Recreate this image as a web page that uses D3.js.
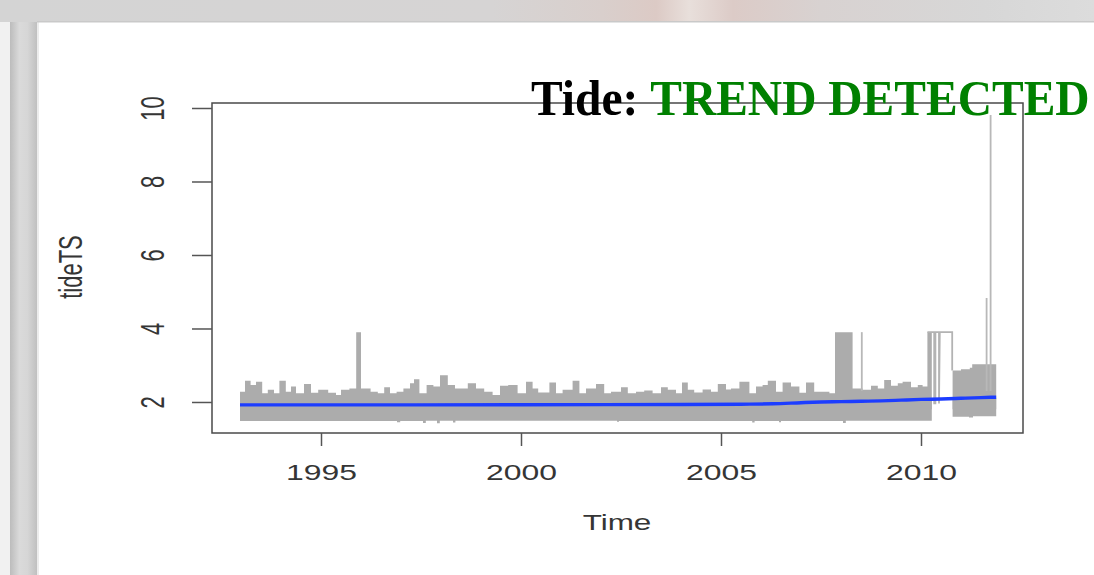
<!DOCTYPE html>
<html>
<head>
<meta charset="utf-8">
<script src="https://cdn.jsdelivr.net/npm/d3@7"></script>
<style>
  html, body { margin: 0; padding: 0; background: #fff; overflow: hidden; }
  svg { display: block; }
</style>
</head>
<body>
<svg id="chart" width="1094" height="575"></svg>
<script>
// Axis ticks
const yearTicks = [1995, 2000, 2005, 2010];
const levelTicks = [2, 4, 6, 8, 10];

// Upper edge of the dense tide band, 1993 - mid 2010: [year, level], holds until next entry
const bandTopA = [
  [1992.975, 2.28], [1993.10, 2.58], [1993.24, 2.46], [1993.375, 2.55], [1993.53, 2.24],
  [1993.67, 2.33], [1993.825, 2.24], [1993.96, 2.58], [1994.12, 2.28], [1994.25, 2.42],
  [1994.375, 2.24], [1994.575, 2.49], [1994.75, 2.25], [1994.93, 2.33], [1995.18, 2.25],
  [1995.375, 2.19], [1995.50, 2.33], [1995.71, 2.37], [1995.88, 3.90], [1996.0, 2.37],
  [1996.24, 2.28], [1996.42, 2.24], [1996.58, 2.40], [1996.725, 2.24], [1996.89, 2.28],
  [1997.06, 2.37], [1997.225, 2.51], [1997.325, 2.62], [1997.46, 2.24], [1997.64, 2.46],
  [1997.81, 2.42], [1997.975, 2.73], [1998.17, 2.46], [1998.35, 2.37], [1998.67, 2.51],
  [1998.875, 2.37], [1999.08, 2.28], [1999.29, 2.19], [1999.475, 2.44], [1999.68, 2.46],
  [1999.915, 2.24], [2000.125, 2.55], [2000.29, 2.37], [2000.43, 2.26], [2000.71, 2.53],
  [2000.875, 2.24], [2001.04, 2.33], [2001.29, 2.58], [2001.46, 2.24], [2001.625, 2.37],
  [2001.875, 2.49], [2002.08, 2.24], [2002.25, 2.28], [2002.5, 2.40], [2002.67, 2.24],
  [2002.875, 2.28], [2003.08, 2.31], [2003.29, 2.24], [2003.5, 2.40], [2003.67, 2.33],
  [2003.875, 2.24], [2004.025, 2.53], [2004.17, 2.33], [2004.33, 2.26], [2004.54, 2.34],
  [2004.75, 2.28], [2004.92, 2.49], [2005.125, 2.34], [2005.25, 2.37], [2005.46, 2.55],
  [2005.71, 2.24], [2005.875, 2.42], [2006.04, 2.46], [2006.17, 2.58], [2006.375, 2.28],
  [2006.54, 2.53], [2006.75, 2.42], [2006.96, 2.25], [2007.125, 2.53], [2007.33, 2.28],
  [2007.5, 2.28], [2007.71, 2.24], [2007.85, 3.90], [2008.29, 2.37], [2008.54, 2.33],
  [2008.75, 2.44], [2008.92, 2.37], [2009.08, 2.60], [2009.25, 2.44], [2009.42, 2.51],
  [2009.54, 2.55], [2009.75, 2.40], [2009.92, 2.46], [2010.04, 2.42], [2010.16, 3.90],
  [2010.27, 3.90]
];

// Lower edge of the same band
const bandBottomA = [
  [1992.975, 1.48], [1996.9, 1.45], [1996.98, 1.48], [1997.55, 1.43], [1997.62, 1.49],
  [1997.9, 1.42], [1997.97, 1.49], [1998.3, 1.44], [1998.36, 1.49], [2002.4, 1.46],
  [2002.45, 1.48], [2005.78, 1.44], [2005.84, 1.48], [2006.45, 1.45], [2006.5, 1.48],
  [2008.05, 1.43], [2008.12, 1.49], [2010.27, 1.49]
];

// Band after the 2010 gap
const bandTopB = [[2010.79, 2.86], [2011.0, 2.89], [2011.22, 2.93], [2011.28, 3.03], [2011.88, 3.03]];
const bandBottomB = [[2010.79, 1.60], [2011.2, 1.58], [2011.3, 1.61], [2011.88, 1.61]];

// Readings inside the 2010 gap
const gapTrace = [
  [2010.16, 3.9], [2010.33, 3.9], [2010.33, 1.96], [2010.36, 1.96], [2010.36, 3.9],
  [2010.45, 3.9], [2010.45, 1.96], [2010.47, 3.9], [2010.78, 3.9], [2010.78, 2.86]
];

// Isolated high readings
const spikes = [[2008.52, 3.9], [2011.64, 4.83], [2011.74, 9.81]];

// Smoothed trend
const trend = [
  [1992.975, 1.92], [1995, 1.92], [2000, 1.925], [2004, 1.93], [2005.5, 1.94],
  [2006.3, 1.95], [2007, 1.98], [2007.5, 2.0], [2008, 2.01], [2008.5, 2.02],
  [2009, 2.03], [2009.5, 2.05], [2010, 2.07], [2010.5, 2.08], [2011, 2.10],
  [2011.5, 2.12], [2011.88, 2.13]
];

const svg = d3.select("#chart");
const W = 1094, H = 575;

// ---- slide backdrop ----
const defs = svg.append("defs");
const topGrad = defs.append("linearGradient").attr("id", "topStrip");
[[0, "#d4d4d4"], [0.45, "#d6d4d4"], [0.55, "#d9cfcc"], [0.6, "#dccac5"], [0.63, "#e8dfdb"],
 [0.67, "#dccbc7"], [0.75, "#d8d2d1"], [0.9, "#d7d7d7"], [1, "#dcdcdc"]]
  .forEach(([o, c]) => topGrad.append("stop").attr("offset", o).attr("stop-color", c));
const sideGrad = defs.append("linearGradient").attr("id", "sideBar");
[[0, "#bcbcbc"], [0.35, "#dadada"], [0.65, "#d6d6d6"], [1, "#c0c0c0"]]
  .forEach(([o, c]) => sideGrad.append("stop").attr("offset", o).attr("stop-color", c));
defs.append("filter").attr("id", "soft")
  .attr("x", "-5%").attr("y", "-5%").attr("width", "110%").attr("height", "110%")
  .append("feGaussianBlur").attr("stdDeviation", 0.7);

svg.append("rect").attr("width", W).attr("height", H).attr("fill", "#ffffff");
svg.append("rect").attr("x", 0).attr("y", 0).attr("width", 10).attr("height", H).attr("fill", "#f1f1f1");
svg.append("rect").attr("x", 10).attr("y", 0).attr("width", 27).attr("height", H).attr("fill", "url(#sideBar)");
svg.append("rect").attr("x", 37).attr("y", 22).attr("width", 2).attr("height", H).attr("fill", "#ececec");
svg.append("rect").attr("x", 0).attr("y", 0).attr("width", W).attr("height", 22).attr("fill", "url(#topStrip)");
svg.append("rect").attr("x", 37).attr("y", 21).attr("width", W).attr("height", 1.5).attr("fill", "#c9c9c9");

// ---- scales ----
const x = d3.scaleLinear().domain([1992.275, 2012.55]).range([212, 1023]);
const y = d3.scaleLinear().domain([1.156, 10.136]).range([433, 103]);

const plot = svg.append("g").attr("filter", "url(#soft)");
const bandColor = "#acacac";

function drawBand(top, bottom) {
  plot.append("path").datum(top)
    .attr("fill", bandColor)
    .attr("d", d3.area().curve(d3.curveStepAfter)
      .x(d => x(d[0])).y0(y(1.8)).y1(d => y(d[1])));
  plot.append("path").datum(bottom)
    .attr("fill", bandColor)
    .attr("d", d3.area().curve(d3.curveStepAfter)
      .x(d => x(d[0])).y0(y(2.1)).y1(d => y(d[1])));
}
drawBand(bandTopA, bandBottomA);
drawBand(bandTopB, bandBottomB);

plot.append("path").datum(gapTrace)
  .attr("fill", "none").attr("stroke", "#b3b3b3").attr("stroke-width", 1.8)
  .attr("d", d3.line().x(d => x(d[0])).y(d => y(d[1])));

plot.selectAll("line.spike").data(spikes).join("line")
  .attr("class", "spike")
  .attr("x1", d => x(d[0])).attr("x2", d => x(d[0]))
  .attr("y1", y(2.3)).attr("y2", d => y(d[1]))
  .attr("stroke", "#b8b8b8").attr("stroke-width", 1.8);

plot.append("path").datum(trend)
  .attr("fill", "none").attr("stroke", "#1f3cff").attr("stroke-width", 3.4)
  .attr("d", d3.line().curve(d3.curveMonotoneX).x(d => x(d[0])).y(d => y(d[1])));

// ---- frame and axes ----
const ink = "#353535";
svg.append("rect")
  .attr("x", 212).attr("y", 103).attr("width", 1023 - 212).attr("height", 433 - 103)
  .attr("fill", "none").attr("stroke", "#4a4a4a").attr("stroke-width", 1.5);

const fontFam = "'Liberation Sans', Arial, Helvetica, sans-serif";

const xAxis = svg.append("g").attr("transform", "translate(0,433)")
  .call(d3.axisBottom(x).tickValues(yearTicks).tickFormat(d3.format("d"))
    .tickSize(13).tickSizeOuter(0));
xAxis.select(".domain").remove();
xAxis.selectAll(".tick line").attr("stroke", "#555").attr("stroke-width", 1.5);
xAxis.selectAll(".tick text")
  .attr("y", 0).attr("dy", 0)
  .attr("transform", "translate(0,47) scale(1.45,1)")
  .attr("fill", ink).style("font-family", fontFam).style("font-size", "22px");

const yAxis = svg.append("g").attr("transform", "translate(212,0)")
  .call(d3.axisLeft(y).tickValues(levelTicks).tickFormat(d3.format("d"))
    .tickSize(20).tickSizeOuter(0));
yAxis.select(".domain").remove();
yAxis.selectAll(".tick line").attr("stroke", "#555").attr("stroke-width", 1.5);
yAxis.selectAll(".tick text")
  .attr("x", 0).attr("dy", "0.36em")
  .attr("text-anchor", "middle")
  .attr("transform", "translate(-60,0) scale(1.5,1) rotate(-90)")
  .attr("fill", ink).style("font-family", fontFam).style("font-size", "22px");

svg.append("text")
  .attr("text-anchor", "middle")
  .attr("transform", "translate(617,530) scale(1.43,1)")
  .attr("fill", ink).style("font-family", fontFam).style("font-size", "22px")
  .text("Time");

svg.append("text")
  .attr("text-anchor", "middle").attr("dy", "0.36em")
  .attr("transform", "translate(70,267) scale(1.5,1) rotate(-90)")
  .attr("fill", ink).style("font-family", fontFam).style("font-size", "22px")
  .text("tideTS");

// ---- headline ----
const head = svg.append("g");
const headText = head.append("text")
  .style("font-family", "'Liberation Serif', 'Times New Roman', serif")
  .style("font-weight", "bold").style("font-size", "51px");
headText.append("tspan").attr("fill", "#000").text("Tide: ");
headText.append("tspan").attr("fill", "#008000").text("TREND DETECTED");
const tw = headText.node().getComputedTextLength();
head.attr("transform", `translate(531,114.5) scale(${558 / tw},1)`);
</script>
</body>
</html>
